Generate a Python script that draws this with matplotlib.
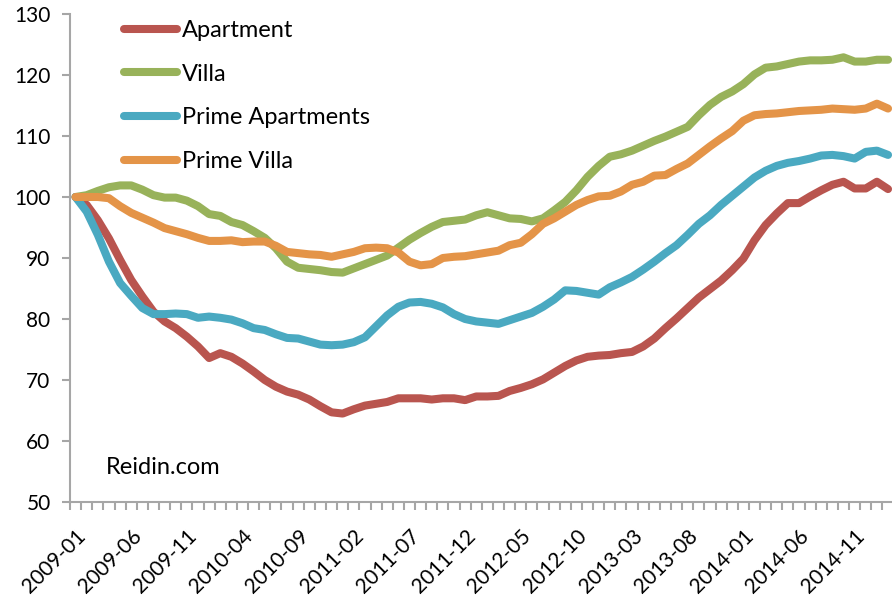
import matplotlib
matplotlib.use("Agg")
from matplotlib import pyplot as plt
import numpy as np
import pandas as pd

# monthly index values, 2009-01 .. 2015-02
months = pd.date_range("2009-01", periods=74, freq="MS").strftime("%Y-%m").tolist()

apartment = [100, 98.7, 96.2, 93.2, 89.7, 86.4, 83.7, 81.2, 79.6, 78.5,
             77.1, 75.5, 73.6, 74.4, 73.8, 72.7, 71.4, 70.0, 68.9, 68.1,
             67.6, 66.8, 65.7, 64.7, 64.5, 65.2, 65.8, 66.1, 66.4, 67.0,
             67.0, 67.0, 66.8, 67.0, 67.0, 66.7, 67.3, 67.3, 67.4, 68.2,
             68.7, 69.3, 70.1, 71.2, 72.3, 73.2, 73.8, 74.0, 74.1, 74.4,
             74.6, 75.5, 76.8, 78.5, 80.1, 81.8, 83.5, 84.9, 86.3, 88.0,
             89.9, 92.9, 95.4, 97.3, 99.0, 99.0, 100.1, 101.1, 102.0, 102.5,
             101.4, 101.4, 102.5, 101.3]

villa = [100.0, 100.3, 101.0, 101.6, 101.9, 101.9, 101.2, 100.3, 99.9, 99.9,
         99.4, 98.5, 97.2, 96.9, 95.9, 95.4, 94.4, 93.3, 91.6, 89.4,
         88.4, 88.2, 88.0, 87.7, 87.6, 88.3, 89.0, 89.7, 90.4, 91.7,
         93.0, 94.1, 95.1, 95.9, 96.1, 96.3, 97.0, 97.5, 97.0, 96.5,
         96.4, 96.0, 96.5, 97.8, 99.2, 101.1, 103.3, 105.1, 106.6, 107.0,
         107.6, 108.4, 109.2, 109.9, 110.7, 111.5, 113.4, 115.1, 116.4, 117.3,
         118.5, 120.1, 121.2, 121.4, 121.8, 122.2, 122.4, 122.4, 122.5, 122.9,
         122.2, 122.2, 122.5, 122.5]

prime_apartments = [100, 97.6, 93.8, 89.4, 85.9, 83.8, 81.8, 80.8, 80.8, 80.9,
                    80.8, 80.2, 80.4, 80.2, 79.9, 79.3, 78.5, 78.2, 77.5, 76.9,
                    76.8, 76.3, 75.8, 75.7, 75.8, 76.2, 77.0, 78.8, 80.6, 82.0,
                    82.7, 82.8, 82.5, 81.9, 80.8, 80.0, 79.6, 79.4, 79.2, 79.8,
                    80.4, 81.0, 82.0, 83.2, 84.7, 84.6, 84.3, 84.0, 85.2, 86.0,
                    86.9, 88.1, 89.4, 90.8, 92.1, 93.8, 95.6, 97.0, 98.7, 100.2,
                    101.7, 103.2, 104.3, 105.1, 105.6, 105.9, 106.3, 106.8, 106.9, 106.7,
                    106.3, 107.4, 107.6, 106.9]

prime_villa = [100, 100, 100, 99.8, 98.5, 97.4, 96.6, 95.8, 94.9, 94.4,
               93.9, 93.3, 92.8, 92.8, 92.9, 92.6, 92.7, 92.7, 92.0, 91.0,
               90.8, 90.6, 90.5, 90.2, 90.6, 91.0, 91.6, 91.7, 91.6, 90.9,
               89.4, 88.8, 89.0, 90.0, 90.2, 90.3, 90.6, 90.9, 91.2, 92.1,
               92.5, 93.9, 95.6, 96.5, 97.6, 98.7, 99.5, 100.1, 100.2, 100.9,
               102.0, 102.5, 103.5, 103.6, 104.6, 105.5, 106.9, 108.3, 109.6, 110.8,
               112.5, 113.4, 113.6, 113.7, 113.9, 114.1, 114.2, 114.3, 114.5, 114.4,
               114.3, 114.5, 115.3, 114.5]

series = [("Apartment", apartment, "#B9554F"),
          ("Villa", villa, "#98B25A"),
          ("Prime Apartments", prime_apartments, "#4AA9C1"),
          ("Prime Villa", prime_villa, "#E49448")]

plt.rcParams["font.family"] = ["Lato", "DejaVu Sans"]

W, H = 892, 604
fig = plt.figure(figsize=(W / 100, H / 100), dpi=100)
# plot area runs slightly past the right edge, as in the original
ax = fig.add_axes([70 / W, (H - 502) / H, 823.6 / W, 488 / H])

x = np.arange(len(months))
for name, vals, col in series:
    ax.plot(x, vals, color=col, lw=5.8, label=name,
            solid_capstyle="round", solid_joinstyle="round")

ax.set_xlim(-0.5, len(months) - 0.5)
ax.set_ylim(50, 130)
ax.set_yticks(np.arange(50, 131, 10))

ax.set_xticks(x[::5])
ax.set_xticklabels(months[::5], rotation=45, ha="right", va="top",
                   rotation_mode="anchor", fontsize=15)
ax.set_xticks(np.arange(-0.5, len(months), 1), minor=True)
ax.tick_params(axis="x", which="major", length=0, pad=17)
ax.tick_params(axis="x", which="minor", length=6, width=1.5, color="#A6A6A6")
ax.tick_params(axis="y", length=6, width=1.5, color="#A6A6A6",
               labelsize=15, pad=8)

for s in ["top", "right"]:
    ax.spines[s].set_visible(False)
for s in ["left", "bottom"]:
    ax.spines[s].set_color("#A6A6A6")
    ax.spines[s].set_linewidth(1.5)

ax.legend(loc="upper left", bbox_to_anchor=(124 / W, 1 - 20 / H),
          bbox_transform=fig.transFigure, frameon=False, fontsize=17,
          handlelength=2.25, handletextpad=0.2, labelspacing=0.96,
          borderpad=0, borderaxespad=0)

ax.text(0.043, 0.07, "Reidin.com", transform=ax.transAxes,
        fontsize=17, va="center", ha="left")

fig.savefig("out.png", dpi=100)
